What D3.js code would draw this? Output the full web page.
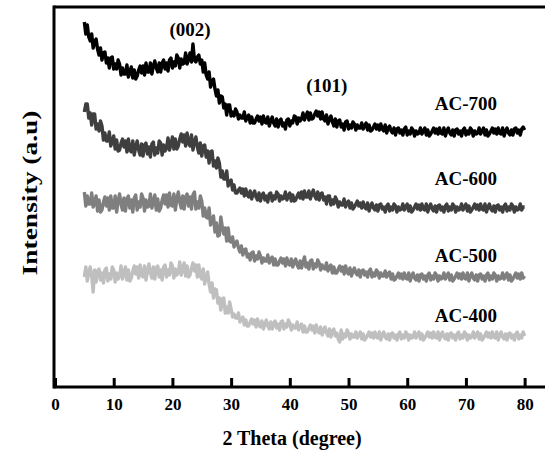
<!DOCTYPE html>
<html><head><meta charset="utf-8">
<script src="https://cdn.jsdelivr.net/npm/d3@7"></script>
<style>
html,body{margin:0;padding:0;background:#fff;}
svg{display:block;}
text{font-family:"Liberation Serif","Times New Roman",serif;font-weight:bold;fill:#000;}
</style></head>
<body>
<svg id="chart" width="545" height="457"></svg>
<script>
// 2θ sampling: 5° to 80° every 0.25°
const thetaStart = 5, thetaEnd = 80, thetaStep = 0.25;
const xTicks = [0,10,20,30,40,50,60,70,80];
const seriesNames = ["AC-700","AC-600","AC-500","AC-400"];
const seriesColors = ["#000000","#3f3f3f","#7f7f7f","#bfbfbf"];

const ac700 = [
365,353,362,350, 346,353,339,345,
348,338,332,339, 327,334,335,324,
329,319,329,330, 318,323,318,327,
323,312,319,313, 313,322,310,315,
320,309,317,308, 311,317,321,314,
321,312,324,315, 315,324,313,321,
326,319,315,324, 315,324,327,318,
324,316,327,329, 319,325,321,332,
329,319,328,323, 324,334,323,328,
334,325,343,327, 325,330,332,323,
327,315,324,312, 308,315,300,306,
308,298,291,297, 284,291,290,279,
283,272,282,282, 271,275,271,278,
275,268,272,269, 269,275,266,270,
272,264,270,264, 264,268,271,266,
270,263,271,265, 264,270,261,266,
270,264,261,268, 260,266,268,261,
264,258,267,268, 261,266,264,271,
270,263,269,266, 268,274,267,271,
275,267,274,268, 269,273,276,271,
275,268,275,268, 266,272,263,268,
271,265,261,268, 260,266,267,260,
263,257,265,266, 258,262,259,265,
263,257,262,259, 259,264,258,261,
264,257,262,256, 257,260,263,258,
262,257,263,258, 256,262,254,259,
261,256,254,259, 252,258,259,254,
257,252,258,260, 252,256,253,259,
257,251,256,253, 254,259,253,256,
259,252,257,251, 253,256,259,254,
258,253,259,254, 253,259,251,256,
259,254,252,257, 251,257,258,253,
256,251,257,259, 252,256,253,259,
257,251,256,253, 254,259,253,256,
259,252,257,251, 253,256,259,254,
258,253,259,254, 253,259,251,256,
259,254,252,257, 252,258,259,254,
257,252,258,260,
257];
const ac600 = [
275,283,283,269, 274,262,273,273,
258,263,256,266, 261,247,254,246,
246,255,241,246, 251,238,247,236,
237,244,248,240, 246,235,248,237,
235,246,232,240, 246,237,232,243,
231,242,244,233, 240,230,243,245,
232,239,234,246, 244,232,242,236,
239,249,237,243, 250,238,248,238,
241,248,253,245, 252,241,254,244,
241,252,237,245, 250,240,234,244,
231,241,242,230, 236,224,235,236,
221,226,219,229, 224,210,216,208,
208,216,201,205, 207,197,202,194,
194,197,199,194, 198,191,198,192,
190,196,188,193, 196,190,187,194,
186,192,194,187, 191,185,193,194,
186,191,188,195, 193,186,191,188,
189,195,187,191, 194,186,192,186,
187,191,194,189, 195,188,196,190,
190,196,188,193, 197,191,188,195,
187,193,194,187, 190,183,191,191,
182,187,183,190, 187,180,185,182,
182,188,180,184, 186,179,184,178,
180,183,186,181, 184,179,185,180,
178,184,176,181, 184,179,177,182,
176,182,183,178, 180,175,181,183,
176,180,177,183, 181,175,180,177,
178,183,177,180, 183,176,181,175,
177,180,183,178, 182,177,183,178,
177,183,175,180, 183,178,176,181,
175,181,182,177, 180,175,181,183,
176,180,177,183, 181,175,180,177,
178,183,177,180, 183,176,181,175,
177,180,183,178, 182,177,183,178,
177,183,175,180, 183,178,176,181,
175,181,182,177, 180,175,181,183,
176,180,177,183, 181,175,180,177,
178,183,177,180,
180];
const ac500 = [
195,181,191,183, 183,194,180,185,
191,176,187,175, 177,185,190,181,
189,177,191,179, 179,191,175,186,
193,183,177,189, 176,188,191,179,
187,175,189,192, 177,185,180,193,
189,176,187,180, 181,193,179,185,
192,177,188,176, 179,187,192,183,
192,180,194,182, 181,193,177,188,
195,185,179,191, 178,190,193,181,
190,178,192,195, 178,185,179,191,
186,171,179,170, 169,179,162,166,
171,155,164,151, 152,170,160,153,
159,146,159,146, 145,150,140,144,
146,139,135,141, 132,137,138,130,
133,127,134,135, 126,131,128,135,
131,124,129,126, 126,132,124,128,
130,122,128,122, 122,126,129,124,
128,121,129,123, 122,128,120,125,
128,122,119,126, 119,125,130,120,
124,118,126,127, 118,123,120,127,
124,117,122,119, 118,124,116,120,
122,114,120,114, 114,118,121,116,
120,113,121,115, 113,119,111,116,
119,114,112,117, 110,116,117,112,
115,110,116,118, 110,114,111,117,
115,109,114,111, 111,116,110,113,
115,108,113,107, 108,111,114,109,
113,108,114,109, 108,114,106,111,
114,109,107,112, 106,112,113,108,
111,106,112,114, 107,111,108,114,
112,106,111,108, 109,114,108,111,
114,107,112,106, 108,111,114,109,
113,108,114,109, 108,114,106,111,
114,109,107,112, 106,112,113,108,
111,106,112,114, 107,111,108,114,
112,106,111,108, 109,114,108,111,
114,107,112,106, 108,111,114,109,
113,108,114,109,
111];
const ac400 = [
110,120,106,114, 120,111,95,117,
105,116,118,107, 114,104,117,119,
106,113,108,120, 117,105,114,108,
111,121,108,114, 120,107,117,106,
109,116,121,113, 120,109,122,112,
110,121,107,116, 123,114,109,120,
108,119,121,110, 117,107,120,122,
110,117,112,124, 121,109,118,112,
115,125,112,118, 124,111,121,110,
112,119,124,116, 122,110,122,111,
108,118,103,110, 115,103,95,104,
89,98,97,84, 89,77,88,89,
74,80,74,85, 78,70,73,69,
69,74,65,68, 70,62,67,61,
61,65,68,63, 67,60,68,62,
60,66,58,63, 67,61,58,65,
58,64,66,59, 63,57,65,66,
58,63,60,67, 64,57,62,59,
59,65,57,61, 63,55,61,55,
55,59,62,57, 61,54,62,56,
54,60,52,57, 60,54,51,58,
50,56,58,51, 54,48,45,57,
48,53,50,57, 54,48,53,50,
50,55,49,52, 55,48,53,47,
49,52,55,50, 54,49,55,50,
49,55,47,52, 55,50,48,53,
47,53,54,49, 52,47,53,55,
48,52,49,55, 53,47,52,49,
50,55,49,52, 55,48,53,47,
49,52,55,50, 54,49,55,50,
49,55,47,52, 55,50,48,53,
47,53,54,49, 52,47,53,55,
48,52,49,55, 53,47,52,49,
50,55,49,52, 55,48,53,47,
49,52,55,50, 54,49,55,50,
49,55,47,52, 55,50,48,53,
47,53,54,49, 52,47,53,55,
48,52,49,55,
51];

// label anchors in data units (2θ, intensity)
const seriesLabelX = [70,70,70,70];
const seriesLabelY = [277,202,125,65];
const peakLabels = ["(002)","(101)"];
const peakLabelX = [23,46.3];
const peakLabelY = [351,295];

const theta = d3.range(thetaStart, thetaEnd + thetaStep/2, thetaStep);
const seriesData = [ac700, ac600, ac500, ac400];

const svg = d3.select("#chart");
const x = d3.scaleLinear().domain([0, 83.47]).range([55, 545]);
const y = d3.scaleLinear().domain([0, 380]).range([387, 7]);

// lines
const line = d3.line().defined((d,i)=>i<theta.length).x((d,i)=>x(theta[i])).y(d=>y(d));
seriesData.forEach((s,k)=>{
  svg.append("path").datum(s)
    .attr("d", line)
    .attr("fill","none")
    .attr("stroke", seriesColors[k])
    .attr("stroke-width", 3.4)
    .attr("stroke-linejoin","round");
});

// frame: top and left
svg.append("line").attr("x1",54).attr("x2",545).attr("y1",y(380)).attr("y2",y(380))
  .attr("stroke","#000").attr("stroke-width",3);
svg.append("line").attr("x1",54).attr("x2",54).attr("y1",y(380)-1.5).attr("y2",y(0)+1.5)
  .attr("stroke","#000").attr("stroke-width",3);

// x axis
const xAxis = d3.axisBottom(x).tickValues(xTicks).tickSizeInner(-9).tickSizeOuter(0).tickPadding(11);
const gx = svg.append("g").attr("transform",`translate(0,${y(0)})`).call(xAxis);
gx.select(".domain").attr("d",`M54,0H545`).attr("stroke","#000").attr("stroke-width",3);
gx.selectAll(".tick line").attr("stroke","#000").attr("stroke-width",3);
gx.selectAll(".tick text").style("font-family",'"Liberation Serif","Times New Roman",serif')
  .style("font-weight","bold").style("font-size","17px").attr("fill","#000");

// axis titles
svg.append("text").attr("x",292).attr("y",445).attr("text-anchor","middle")
  .style("font-size","20px").text("2 Theta (degree)");
svg.append("text").attr("transform","translate(37,193) rotate(-90)").attr("text-anchor","middle")
  .attr("textLength",165).attr("lengthAdjust","spacingAndGlyphs")
  .style("font-size","20px").text("Intensity (a.u)");

// series labels
seriesNames.forEach((n,k)=>{
  svg.append("text").attr("x",x(seriesLabelX[k])).attr("y",y(seriesLabelY[k]))
    .attr("text-anchor","middle").style("font-size","19px").text(n);
});
peakLabels.forEach((n,k)=>{
  svg.append("text").attr("x",x(peakLabelX[k])).attr("y",y(peakLabelY[k]))
    .attr("text-anchor","middle").style("font-size","19px").text(n);
});
</script>
</body></html>
